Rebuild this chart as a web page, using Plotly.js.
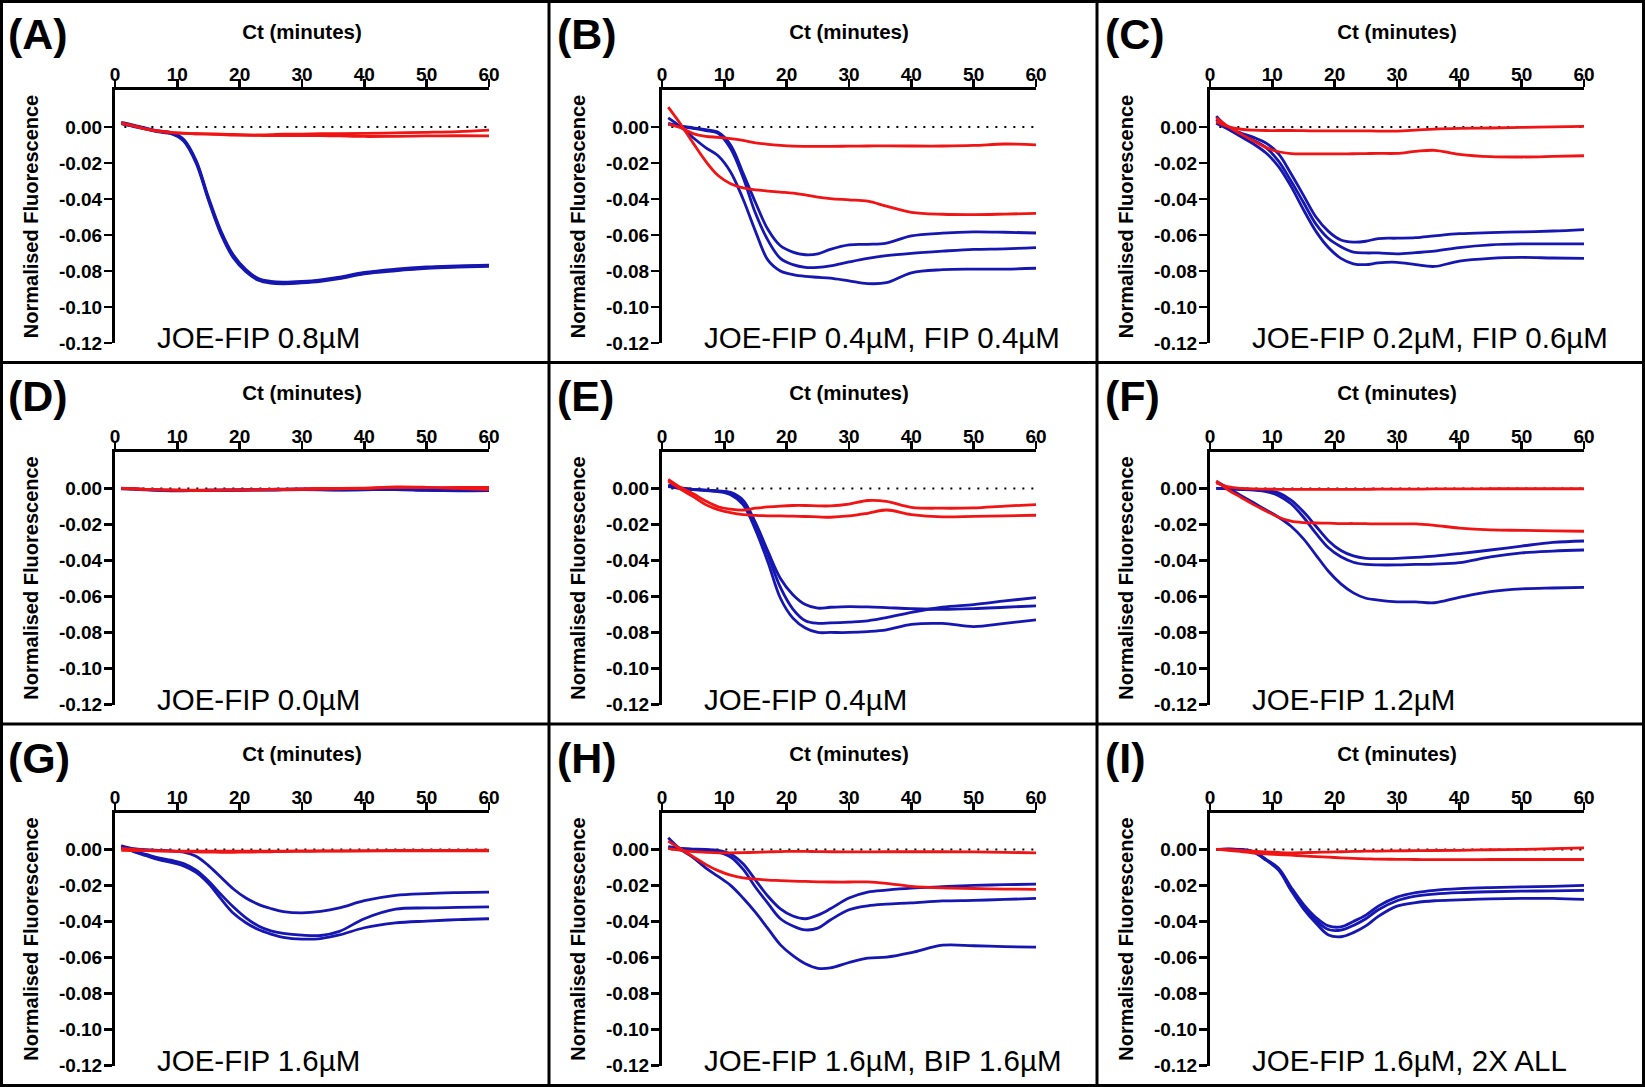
<!DOCTYPE html>
<html>
<head>
<meta charset="utf-8">
<script src="https://cdn.plot.ly/plotly-3.0.1.min.js"></script>
<style>html,body{margin:0;padding:0;background:#fff;}#chart{width:1645px;height:1087px;}</style>
</head>
<body>
<div id="chart"></div>
<script>
// ---- data ----
const X = [1,3,5,7,9,11,13,15,17,19,21,23,25,27,30,33,36,40,45,50,55,60];
const xTickVals = [0,10,20,30,40,50,60];
const yTickVals = [0,-0.02,-0.04,-0.06,-0.08,-0.10,-0.12];
const yTickText = ['0.00','-0.02','-0.04','-0.06','-0.08','-0.10','-0.12'];
const panelLabels = ['(A)','(B)','(C)','(D)','(E)','(F)','(G)','(H)','(I)'];
const panelNotes = ['JOE-FIP 0.8µM','JOE-FIP 0.4µM, FIP 0.4µM','JOE-FIP 0.2µM, FIP 0.6µM',
  'JOE-FIP 0.0µM','JOE-FIP 0.4µM','JOE-FIP 1.2µM',
  'JOE-FIP 1.6µM','JOE-FIP 1.6µM, BIP 1.6µM','JOE-FIP 1.6µM, 2X ALL'];

const A_blue1 = [0.0025,0.001,-0.0007,-0.0022,-0.0032,-0.0068,-0.0185,-0.0392,-0.0578,-0.0712,-0.0792,-0.0842,-0.0858,-0.0862,-0.0858,-0.0849,-0.0834,-0.0808,-0.079,-0.0778,-0.0772,-0.0767];
const A_blue2 = [0.002,0.0005,-0.001,-0.0025,-0.0035,-0.0072,-0.0192,-0.04,-0.0588,-0.072,-0.0798,-0.0847,-0.0863,-0.0867,-0.0862,-0.0853,-0.0838,-0.0812,-0.0795,-0.0782,-0.0775,-0.077];
const A_blue3 = [0.0018,0.0002,-0.0012,-0.0028,-0.0038,-0.0078,-0.02,-0.0408,-0.0596,-0.0728,-0.0804,-0.0852,-0.0868,-0.0871,-0.0866,-0.0857,-0.0842,-0.0816,-0.0799,-0.0786,-0.0779,-0.0774];
const A_red1 = [0.002,0.0005,-0.0012,-0.0022,-0.003,-0.0035,-0.0038,-0.004,-0.0042,-0.0045,-0.0046,-0.0045,-0.0043,-0.004,-0.004,-0.0038,-0.0038,-0.0036,-0.0033,-0.003,-0.0026,-0.0018];
const A_red2 = [0.0022,0.0006,-0.0012,-0.0024,-0.0032,-0.0036,-0.0038,-0.0039,-0.004,-0.0042,-0.0045,-0.0047,-0.0048,-0.0048,-0.0048,-0.0048,-0.005,-0.0053,-0.0052,-0.005,-0.0049,-0.005];

const B_blue1 = [0.002,0.0005,-0.0005,-0.0015,-0.003,-0.01,-0.0256,-0.042,-0.057,-0.066,-0.0695,-0.071,-0.0705,-0.068,-0.0655,-0.0652,-0.0645,-0.0605,-0.059,-0.0583,-0.0585,-0.0589];
const B_blue2 = [0.0015,0.0003,-0.0008,-0.002,-0.0035,-0.012,-0.028,-0.048,-0.063,-0.073,-0.0765,-0.078,-0.078,-0.0772,-0.075,-0.073,-0.0715,-0.0702,-0.069,-0.068,-0.0677,-0.067];
const B_blue3 = [0.005,0.0,-0.006,-0.0115,-0.016,-0.025,-0.04,-0.058,-0.074,-0.08,-0.082,-0.083,-0.0835,-0.084,-0.0855,-0.087,-0.0865,-0.081,-0.0793,-0.079,-0.079,-0.0785];
const B_red1 = [0.0015,-0.0005,-0.0037,-0.0052,-0.0058,-0.0065,-0.0075,-0.0088,-0.0097,-0.0103,-0.0107,-0.0108,-0.0108,-0.0108,-0.0107,-0.0106,-0.0105,-0.0106,-0.0106,-0.0103,-0.0095,-0.01];
const B_red2 = [0.011,0.0015,-0.009,-0.019,-0.027,-0.0315,-0.0338,-0.035,-0.0356,-0.0362,-0.0368,-0.0378,-0.039,-0.0398,-0.0405,-0.0412,-0.044,-0.0474,-0.0485,-0.0487,-0.0484,-0.048];

const C_blue1 = [0.006,-0.0005,-0.0035,-0.0058,-0.009,-0.015,-0.026,-0.038,-0.05,-0.058,-0.0628,-0.064,-0.0635,-0.062,-0.0618,-0.0615,-0.0605,-0.0593,-0.0587,-0.0583,-0.0578,-0.057];
const C_blue2 = [0.004,-0.0008,-0.0045,-0.0075,-0.0115,-0.019,-0.03,-0.042,-0.054,-0.062,-0.0665,-0.0695,-0.07,-0.07,-0.0705,-0.0698,-0.069,-0.067,-0.0655,-0.065,-0.065,-0.065];
const C_blue3 = [0.002,-0.0015,-0.0055,-0.0095,-0.0145,-0.022,-0.033,-0.046,-0.058,-0.067,-0.073,-0.076,-0.0765,-0.0755,-0.0752,-0.0765,-0.0775,-0.0745,-0.073,-0.0725,-0.0728,-0.073];
const C_red1 = [0.003,0.0,-0.0013,-0.0018,-0.002,-0.002,-0.002,-0.0021,-0.0022,-0.0022,-0.0022,-0.0022,-0.0022,-0.0023,-0.0023,-0.0018,-0.0012,-0.0008,-0.0006,-0.0003,0.0,0.0003];
const C_red2 = [0.005,0.0,-0.004,-0.0078,-0.0115,-0.0138,-0.0148,-0.015,-0.015,-0.015,-0.015,-0.0149,-0.0148,-0.0147,-0.0147,-0.0136,-0.013,-0.0152,-0.0165,-0.0167,-0.0164,-0.016];

const D_blue1 = [0.0,-0.0003,-0.0007,-0.001,-0.0012,-0.0012,-0.0011,-0.001,-0.001,-0.001,-0.0009,-0.0008,-0.0008,-0.0007,-0.0005,-0.0006,-0.0008,-0.0005,-0.0004,-0.001,-0.0012,-0.0008];
const D_blue2 = [0.0002,-0.0002,-0.0005,-0.0008,-0.001,-0.0011,-0.0011,-0.001,-0.0009,-0.0008,-0.0007,-0.0006,-0.0005,-0.0004,-0.0003,-0.0002,-0.0003,-0.0002,0.0,-0.0006,-0.0008,-0.0004];
const D_blue3 = [-0.0002,-0.0004,-0.0008,-0.0011,-0.0013,-0.0013,-0.0012,-0.0012,-0.0011,-0.0011,-0.001,-0.001,-0.0009,-0.0008,-0.0007,-0.0008,-0.001,-0.0008,-0.0006,-0.0011,-0.0013,-0.0012];
const D_red1 = [0.0,-0.0003,-0.0006,-0.0008,-0.001,-0.0011,-0.0012,-0.0011,-0.001,-0.001,-0.0009,-0.0008,-0.0007,-0.0005,-0.0003,0.0,0.0,0.0002,0.0005,0.0004,0.0005,0.0005];
const D_red2 = [0.0,-0.0002,-0.0005,-0.0007,-0.0008,-0.0009,-0.001,-0.001,-0.0009,-0.0008,-0.0008,-0.0007,-0.0006,-0.0006,-0.0005,-0.0004,-0.0002,0.0,0.0008,0.0006,0.0,-0.0006];

const E_blue1 = [0.0013,0.0,-0.0005,-0.001,-0.0014,-0.0022,-0.0065,-0.019,-0.035,-0.05,-0.059,-0.0645,-0.0665,-0.066,-0.0656,-0.0658,-0.0662,-0.0668,-0.0672,-0.0668,-0.066,-0.0652];
const E_blue2 = [0.002,0.0003,-0.0005,-0.001,-0.0015,-0.0027,-0.0075,-0.02,-0.037,-0.055,-0.067,-0.0735,-0.0749,-0.0747,-0.0742,-0.0735,-0.0718,-0.0688,-0.066,-0.0645,-0.0625,-0.0606];
const E_blue3 = [0.001,0.0,-0.0007,-0.0012,-0.0018,-0.0035,-0.009,-0.023,-0.041,-0.061,-0.072,-0.0775,-0.08,-0.08,-0.08,-0.0795,-0.0785,-0.0755,-0.075,-0.0767,-0.0749,-0.073];
const E_red1 = [0.005,0.0005,-0.003,-0.007,-0.0102,-0.0115,-0.012,-0.011,-0.0103,-0.0098,-0.0095,-0.0095,-0.0097,-0.0097,-0.0087,-0.0067,-0.0072,-0.0105,-0.011,-0.0108,-0.0098,-0.009];
const E_red2 = [0.004,-0.0005,-0.0045,-0.009,-0.0118,-0.0135,-0.0146,-0.015,-0.0152,-0.0153,-0.0154,-0.0156,-0.0158,-0.016,-0.0153,-0.0138,-0.012,-0.0145,-0.0158,-0.0155,-0.0152,-0.0149];

const F_blue1 = [0.0,0.0,-0.0003,-0.0006,-0.001,-0.0025,-0.0065,-0.013,-0.021,-0.029,-0.0345,-0.0375,-0.0388,-0.039,-0.0388,-0.0383,-0.0376,-0.0362,-0.0342,-0.032,-0.03,-0.0292];
const F_blue2 = [0.0,-0.0002,-0.0006,-0.001,-0.0018,-0.004,-0.0085,-0.016,-0.025,-0.033,-0.038,-0.041,-0.0422,-0.0425,-0.0425,-0.0422,-0.042,-0.0412,-0.038,-0.0358,-0.0348,-0.0342];
const F_blue3 = [0.004,0.0,-0.004,-0.008,-0.012,-0.016,-0.021,-0.028,-0.037,-0.046,-0.053,-0.058,-0.061,-0.062,-0.063,-0.063,-0.0635,-0.0605,-0.0573,-0.0558,-0.0553,-0.055];
const F_red1 = [0.003,0.0008,0.0,-0.0003,-0.0004,-0.0005,-0.0005,-0.0005,-0.0005,-0.0005,-0.0005,-0.0005,-0.0005,-0.0004,-0.0004,-0.0004,-0.0003,-0.0003,-0.0002,-0.0002,-0.0002,-0.0002];
const F_red2 = [0.004,-0.001,-0.005,-0.009,-0.0125,-0.016,-0.0182,-0.019,-0.0192,-0.0193,-0.0195,-0.0195,-0.0196,-0.0197,-0.0197,-0.0197,-0.0205,-0.022,-0.023,-0.0233,-0.0236,-0.0238];

const G_blue1 = [0.002,0.0004,-0.0002,-0.0005,-0.0008,-0.0015,-0.0038,-0.009,-0.0155,-0.022,-0.027,-0.0305,-0.0328,-0.0345,-0.0352,-0.0344,-0.0325,-0.0285,-0.0255,-0.0245,-0.024,-0.0237];
const G_blue2 = [0.001,-0.001,-0.0028,-0.0047,-0.006,-0.0078,-0.0115,-0.0175,-0.025,-0.032,-0.038,-0.0425,-0.0452,-0.0466,-0.0476,-0.0478,-0.0455,-0.0385,-0.0332,-0.0325,-0.0322,-0.0319];
const G_blue3 = [0.002,-0.0012,-0.0035,-0.0057,-0.0072,-0.0092,-0.0128,-0.019,-0.0275,-0.0355,-0.0407,-0.0445,-0.047,-0.0488,-0.0498,-0.0495,-0.0475,-0.0435,-0.0408,-0.0398,-0.039,-0.0385];
const G_red1 = [0.0005,0.0,-0.0005,-0.0008,-0.001,-0.0012,-0.0014,-0.0015,-0.0016,-0.0016,-0.0015,-0.0014,-0.0013,-0.0012,-0.0011,-0.001,-0.0009,-0.0008,-0.0006,-0.0005,-0.0005,-0.0004];
const G_red2 = [-0.0005,-0.0006,-0.0007,-0.0008,-0.0009,-0.001,-0.001,-0.001,-0.001,-0.001,-0.0009,-0.0009,-0.0009,-0.0009,-0.0008,-0.0008,-0.0008,-0.0008,-0.0008,-0.0008,-0.0008,-0.0008];

const H_blue1 = [0.0009,0.0004,0.0002,0.0,-0.0005,-0.0025,-0.008,-0.017,-0.026,-0.033,-0.037,-0.0385,-0.0365,-0.033,-0.027,-0.0237,-0.0226,-0.0215,-0.0207,-0.02,-0.0196,-0.0193];
const H_blue2 = [0.0015,0.0005,0.0,-0.0005,-0.0015,-0.0042,-0.011,-0.021,-0.03,-0.0385,-0.0425,-0.0447,-0.0437,-0.0392,-0.0335,-0.0313,-0.0304,-0.0297,-0.0286,-0.0283,-0.0278,-0.0272];
const H_blue3 = [0.0065,0.0,-0.0045,-0.0102,-0.015,-0.02,-0.027,-0.035,-0.044,-0.053,-0.059,-0.0635,-0.066,-0.0658,-0.0628,-0.0604,-0.0598,-0.0573,-0.0532,-0.0535,-0.054,-0.0543];
const H_red1 = [0.0004,-0.0005,-0.0012,-0.0016,-0.0019,-0.0019,-0.0018,-0.0016,-0.0014,-0.0012,-0.0011,-0.0011,-0.0012,-0.0013,-0.0014,-0.0014,-0.0013,-0.0013,-0.0013,-0.0014,-0.0016,-0.0019];
const H_red2 = [0.0046,0.0002,-0.004,-0.0083,-0.0118,-0.0143,-0.0158,-0.0165,-0.017,-0.0173,-0.0176,-0.0178,-0.018,-0.0181,-0.0181,-0.018,-0.0188,-0.0205,-0.0214,-0.0217,-0.022,-0.0222];

const I_blue1 = [0.0,0.0002,0.0,-0.0012,-0.0055,-0.0105,-0.021,-0.0305,-0.0378,-0.0425,-0.043,-0.040,-0.0365,-0.0315,-0.0265,-0.024,-0.0227,-0.0218,-0.0212,-0.0208,-0.0205,-0.020];
const I_blue2 = [0.0,0.0002,-0.0001,-0.0013,-0.0058,-0.011,-0.022,-0.0318,-0.0395,-0.0445,-0.0448,-0.0422,-0.0385,-0.0335,-0.0285,-0.026,-0.0248,-0.024,-0.0235,-0.0232,-0.023,-0.0228];
const I_blue3 = [0.0,0.0001,-0.0002,-0.0015,-0.006,-0.0115,-0.0228,-0.033,-0.041,-0.0475,-0.0485,-0.0462,-0.0425,-0.0372,-0.0315,-0.0295,-0.0285,-0.028,-0.0275,-0.0272,-0.0272,-0.0278];
const I_red1 = [0.0,-0.0002,-0.0006,-0.001,-0.0014,-0.0017,-0.0019,-0.0018,-0.0016,-0.0015,-0.0013,-0.0011,-0.001,-0.0009,-0.0008,-0.0007,-0.0006,-0.0005,-0.0002,0.0,0.0004,0.0009];
const I_red2 = [0.0,-0.0005,-0.0012,-0.002,-0.0025,-0.0029,-0.0032,-0.0036,-0.004,-0.0043,-0.0047,-0.005,-0.0052,-0.0054,-0.0055,-0.0056,-0.0057,-0.0057,-0.0056,-0.0056,-0.0056,-0.0056];

const blueSeries = [[A_blue1,A_blue2,A_blue3],[B_blue1,B_blue2,B_blue3],[C_blue1,C_blue2,C_blue3],
  [D_blue1,D_blue2,D_blue3],[E_blue1,E_blue2,E_blue3],[F_blue1,F_blue2,F_blue3],
  [G_blue1,G_blue2,G_blue3],[H_blue1,H_blue2,H_blue3],[I_blue1,I_blue2,I_blue3]];
const redSeries = [[A_red1,A_red2],[B_red1,B_red2],[C_red1,C_red2],[D_red1,D_red2],[E_red1,E_red2],
  [F_red1,F_red2],[G_red1,G_red2],[H_red1,H_red2],[I_red1,I_red2]];

// ---- layout geometry ----
const W = 1645, H = 1087;
const colL = [115, 662, 1210], rowT = [90, 451.5, 812.5];
const plotW = 374, plotH = 253;
const panelL = [0, 549, 1097], panelT = [0, 362, 724];
const BLUE = '#1616b0', RED = '#f01414';
const FONT = 'Liberation Sans, Arial, sans-serif';

const traces = [];
const layout = {
  width: W, height: H, margin: {l:0, r:0, t:0, b:0},
  paper_bgcolor: '#fff', plot_bgcolor: '#fff', showlegend: false,
  annotations: [], shapes: []
};

for (let i = 0; i < 9; i++) {
  const c = i % 3, r = Math.floor(i / 3);
  const sfx = i === 0 ? '' : String(i + 1);
  const xa = 'x' + sfx, ya = 'y' + sfx;
  layout['xaxis' + sfx] = {
    domain: [colL[c] / W, (colL[c] + plotW) / W],
    anchor: ya, side: 'top', range: [0, 60],
    showline: true, linecolor: '#000', linewidth: 3,
    ticks: 'outside', ticklen: 8, tickwidth: 2.5, tickcolor: '#000',
    ticklabelstandoff: -10,
    tickvals: xTickVals, tickfont: {family: FONT, size: 19, color: '#000', weight: 'bold'},
    showgrid: false, zeroline: false, fixedrange: true,
    title: {text: 'Ct (minutes)', standoff: 20, font: {family: FONT, size: 20.5, color: '#000', weight: 'bold'}}
  };
  layout['yaxis' + sfx] = {
    domain: [1 - (rowT[r] + plotH) / H, 1 - rowT[r] / H],
    anchor: xa, range: [-0.12, 0.0205],
    showline: true, linecolor: '#000', linewidth: 3,
    ticks: 'outside', ticklen: 8, tickwidth: 2.5, tickcolor: '#000',
    ticklabelstandoff: -2,
    tickvals: yTickVals, ticktext: yTickText,
    tickfont: {family: FONT, size: 19, color: '#000', weight: 'bold'},
    showgrid: false, zeroline: false, fixedrange: true,
    title: {text: 'Normalised Fluorescence', standoff: 15, font: {family: FONT, size: 20, color: '#000', weight: 'bold'}}
  };
  blueSeries[i].forEach(ys => traces.push({
    x: X, y: ys, xaxis: xa, yaxis: ya, type: 'scatter', mode: 'lines',
    line: {color: BLUE, width: 2.8, shape: 'spline', smoothing: 1}, hoverinfo: 'skip'
  }));
  redSeries[i].forEach(ys => traces.push({
    x: X, y: ys, xaxis: xa, yaxis: ya, type: 'scatter', mode: 'lines',
    line: {color: RED, width: 2.8, shape: 'spline', smoothing: 1}, hoverinfo: 'skip'
  }));
  // dotted zero line
  layout.shapes.push({type: 'line', xref: xa, yref: ya, x0: 1.5, x1: 60, y0: 0, y1: 0,
    layer: 'below', line: {color: '#000', width: 2, dash: '2px,7px'}});
  // panel label
  layout.annotations.push({xref: 'paper', yref: 'paper', x: (panelL[c] + 6) / W, y: 1 - (panelT[r] + 34) / H,
    xanchor: 'left', yanchor: 'middle', showarrow: false, text: panelLabels[i],
    font: {family: FONT, size: 43, color: '#000', weight: 'bold'}});
  // condition note
  layout.annotations.push({xref: xa + ' domain', yref: ya, x: 40 / plotW, y: -0.1172,
    xanchor: 'left', yanchor: 'middle', showarrow: false, text: panelNotes[i],
    font: {family: FONT, size: 29.5, color: '#000'}});
}

// panel frames
const frameLine = {color: '#000', width: 3};
layout.shapes.push({type: 'rect', xref: 'paper', yref: 'paper', x0: 1.5 / W, x1: 1643.5 / W,
  y0: 1 - 1085.5 / H, y1: 1 - 1.5 / H, line: frameLine});
[549, 1097].forEach(px => layout.shapes.push({type: 'line', xref: 'paper', yref: 'paper',
  x0: px / W, x1: px / W, y0: 0, y1: 1, line: frameLine}));
[362.5, 724].forEach(py => layout.shapes.push({type: 'line', xref: 'paper', yref: 'paper',
  x0: 0, x1: 1, y0: 1 - py / H, y1: 1 - py / H, line: frameLine}));

Plotly.newPlot('chart', traces, layout, {staticPlot: true, displayModeBar: false});
</script>
</body>
</html>
